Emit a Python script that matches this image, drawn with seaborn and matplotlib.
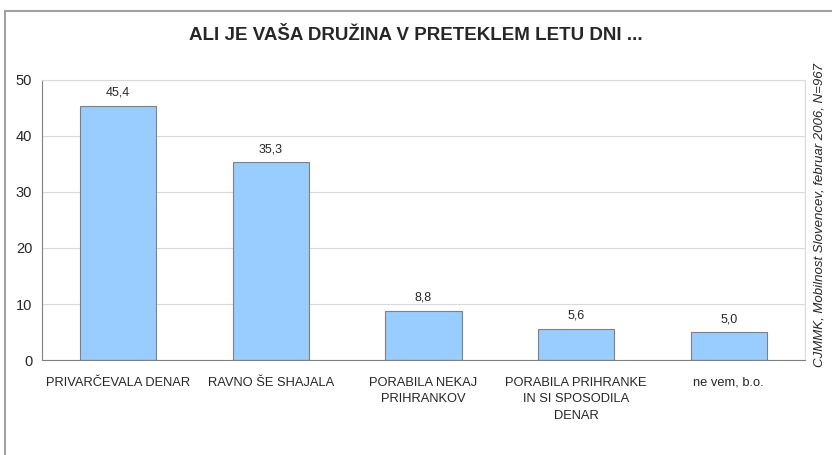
import matplotlib
matplotlib.use("Agg")
import matplotlib.pyplot as plt
import seaborn as sns
import pandas as pd
import numpy as np
from matplotlib.patches import Rectangle

categories = ["PRIVARČEVALA DENAR", "RAVNO ŠE SHAJALA", "PORABILA NEKAJ\nPRIHRANKOV",
              "PORABILA PRIHRANKE\nIN SI SPOSODILA\nDENAR", "ne vem, b.o."]
values = [45.4, 35.3, 8.8, 5.6, 5.0]
value_labels = ["45,4", "35,3", "8,8", "5,6", "5,0"]
yticks = [0, 10, 20, 30, 40, 50]

sns.set_style("white")
plt.rcParams['font.family'] = ['Liberation Sans', 'DejaVu Sans']

df = pd.DataFrame({"kategorija": categories, "delez": values})

fig = plt.figure(figsize=(8.32, 4.55), dpi=100)
ax = fig.add_axes([42 / 832, 1 - 360 / 455, (805 - 42) / 832, (360 - 80) / 455])

sns.barplot(data=df, x="kategorija", y="delez", ax=ax, color="#99CCFF",
            edgecolor="#808080", linewidth=0.8, width=0.5, saturation=1)

ax.set_ylim(0, 50)
ax.set_xlim(-0.5, len(categories) - 0.5)
ax.set_yticks(yticks)
ax.yaxis.grid(True, color="#D9D9D9", linewidth=0.8)
ax.set_axisbelow(True)
ax.set_xlabel("")
ax.set_ylabel("")

for i, (v, lab) in enumerate(zip(values, value_labels)):
    ax.text(i, v + 2.3, lab, ha="center", va="center", fontsize=9)

# tick marks between categories
ax.set_xticks(np.arange(-0.5, len(categories)), minor=True)
ax.tick_params(axis="x", which="major", length=0, pad=12, labelsize=9.3)
ax.tick_params(axis="x", which="minor", length=4, direction="out", color="#808080", width=0.8)
ax.tick_params(axis="y", length=4, direction="out", color="#808080", width=0.8, labelsize=10.5, pad=3)
for t in ax.get_xticklabels():
    t.set_linespacing(1.5)
    t.set_verticalalignment("top")

for s in ["left", "bottom"]:
    ax.spines[s].set_color("#808080")
    ax.spines[s].set_linewidth(0.8)
for s in ["top", "right"]:
    ax.spines[s].set_color("#D9D9D9")
    ax.spines[s].set_linewidth(0.8)

fig.text(0.5, 1 - 36 / 455, "ALI JE VAŠA DRUŽINA V PRETEKLEM LETU DNI ...",
         ha="center", va="center", fontsize=13.5, fontweight="bold")
fig.text(820 / 832, 1 - 215 / 455, "CJMMK, Mobilnost Slovencev, februar 2006, N=967",
         rotation=90, ha="center", va="center", fontsize=9.5, style="italic")

fig.patches.append(Rectangle((5 / 832, -0.1), 1.0, 1 - 11 / 455 + 0.1, transform=fig.transFigure,
                             fill=False, edgecolor="#A0A0A0", linewidth=1.5, clip_on=False))

fig.savefig("out.png", dpi=100)
